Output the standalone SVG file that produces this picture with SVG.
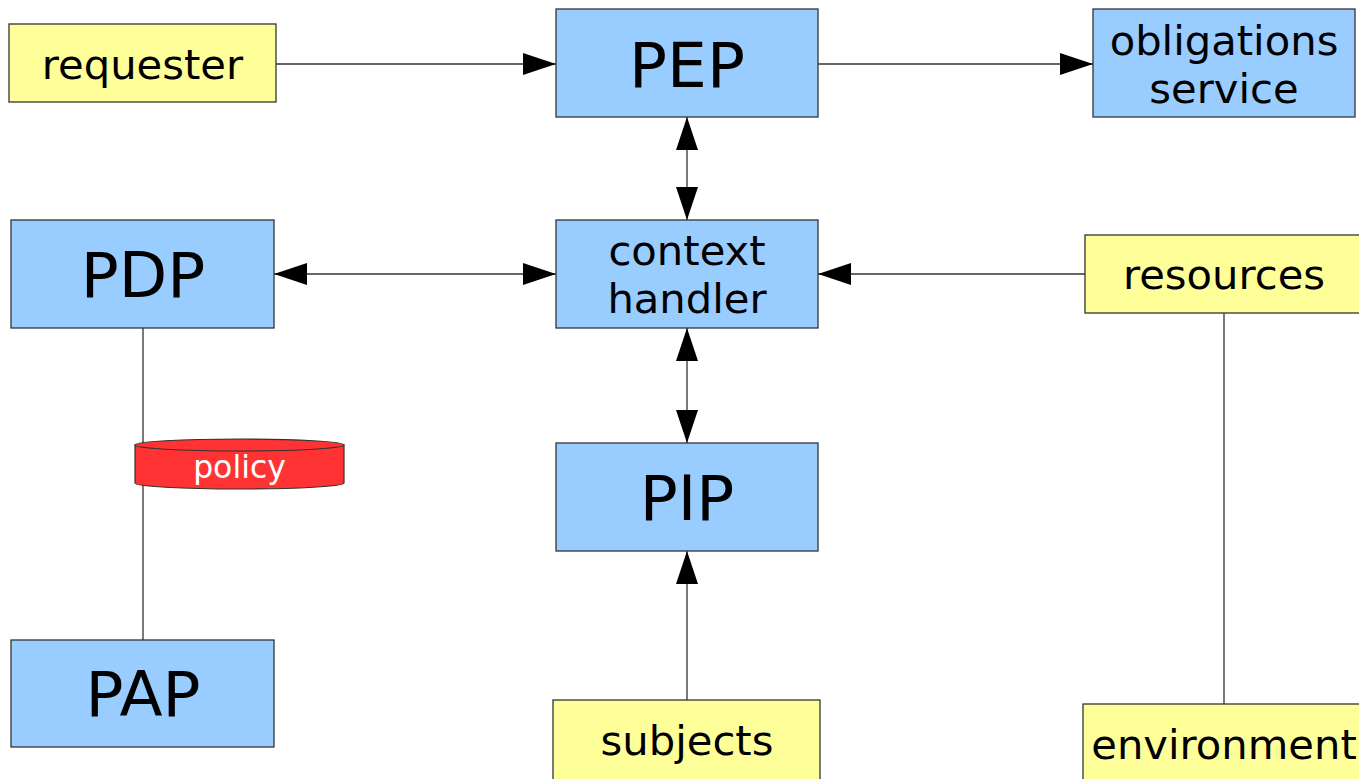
<svg xmlns="http://www.w3.org/2000/svg" width="1359" height="779" viewBox="0 0 1359 779">
<style>
.blue{fill:#99ccff;stroke:#333;stroke-width:1.3}
.yel{fill:#ffff99;stroke:#333;stroke-width:1.3}
.t{font-family:"DejaVu Sans",sans-serif;fill:#000;text-anchor:middle}
.big{font-size:63px}
.med{font-size:41.7px}
.ln{stroke:#333;stroke-width:1.3;fill:none}
</style>
<defs>
<marker id="ah" markerUnits="userSpaceOnUse" markerWidth="34" markerHeight="24" refX="33" refY="12" orient="auto-start-reverse" viewBox="0 0 34 24">
<path d="M0,1 L33,12 L0,23 Z" fill="#000"/>
</marker>
</defs>
<rect width="1359" height="779" fill="#fff"/>
<g id="connectors">
<line class="ln" x1="276" y1="64" x2="556" y2="64" marker-end="url(#ah)"/>
<line class="ln" x1="818" y1="64" x2="1093" y2="64" marker-end="url(#ah)"/>
<line class="ln" x1="687" y1="117" x2="687" y2="220" marker-start="url(#ah)" marker-end="url(#ah)"/>
<line class="ln" x1="274" y1="274" x2="556" y2="274" marker-start="url(#ah)" marker-end="url(#ah)"/>
<line class="ln" x1="1085" y1="274" x2="818" y2="274" marker-end="url(#ah)"/>
<line class="ln" x1="687" y1="328" x2="687" y2="443" marker-start="url(#ah)" marker-end="url(#ah)"/>
<line class="ln" x1="687" y1="700" x2="687" y2="551" marker-end="url(#ah)"/>
<line class="ln" x1="1224" y1="313" x2="1224" y2="704"/>
<line class="ln" x1="143" y1="328" x2="143" y2="640" stroke="#777"/>
</g>
<g id="requester"><rect class="yel" x="9" y="24" width="267" height="78"/><text class="t med" x="142.5" y="79">requester</text></g>
<g id="pep"><rect class="blue" x="556" y="9" width="262" height="108"/><text class="t big" x="687" y="87">PEP</text></g>
<g id="obligations"><rect class="blue" x="1093" y="9" width="262" height="108"/><text class="t med" x="1224" y="55">obligations</text><text class="t med" x="1224" y="103">service</text></g>
<g id="pdp"><rect class="blue" x="11" y="220" width="263" height="108"/><text class="t big" x="143" y="297">PDP</text></g>
<g id="context"><rect class="blue" x="556" y="220" width="262" height="108"/><text class="t med" x="687" y="265">context</text><text class="t med" x="687" y="313">handler</text></g>
<g id="resources"><rect class="yel" x="1085" y="235" width="280" height="78"/><text class="t med" x="1224" y="289">resources</text></g>
<g id="policy">
<path d="M135,445 L135,483 A104.5,6 0 0 0 344,483 L344,445 Z" fill="#ff3333" stroke="#333" stroke-width="1.2"/>
<ellipse cx="239.5" cy="445" rx="104.5" ry="6" fill="#ff3333" stroke="#333" stroke-width="1.2"/>
<text class="t" x="239.5" y="478" font-size="31.5" style="fill:#fff">policy</text>
</g>
<g id="pip"><rect class="blue" x="556" y="443" width="262" height="108"/><text class="t big" x="687" y="520">PIP</text></g>
<g id="pap"><rect class="blue" x="11" y="640" width="263" height="107"/><text class="t big" x="143" y="716">PAP</text></g>
<g id="subjects"><rect class="yel" x="553" y="700" width="267" height="85"/><text class="t med" x="687" y="755">subjects</text></g>
<g id="environment"><rect class="yel" x="1083" y="704" width="290" height="85"/><text class="t med" x="1224" y="759">environment</text></g>
</svg>
